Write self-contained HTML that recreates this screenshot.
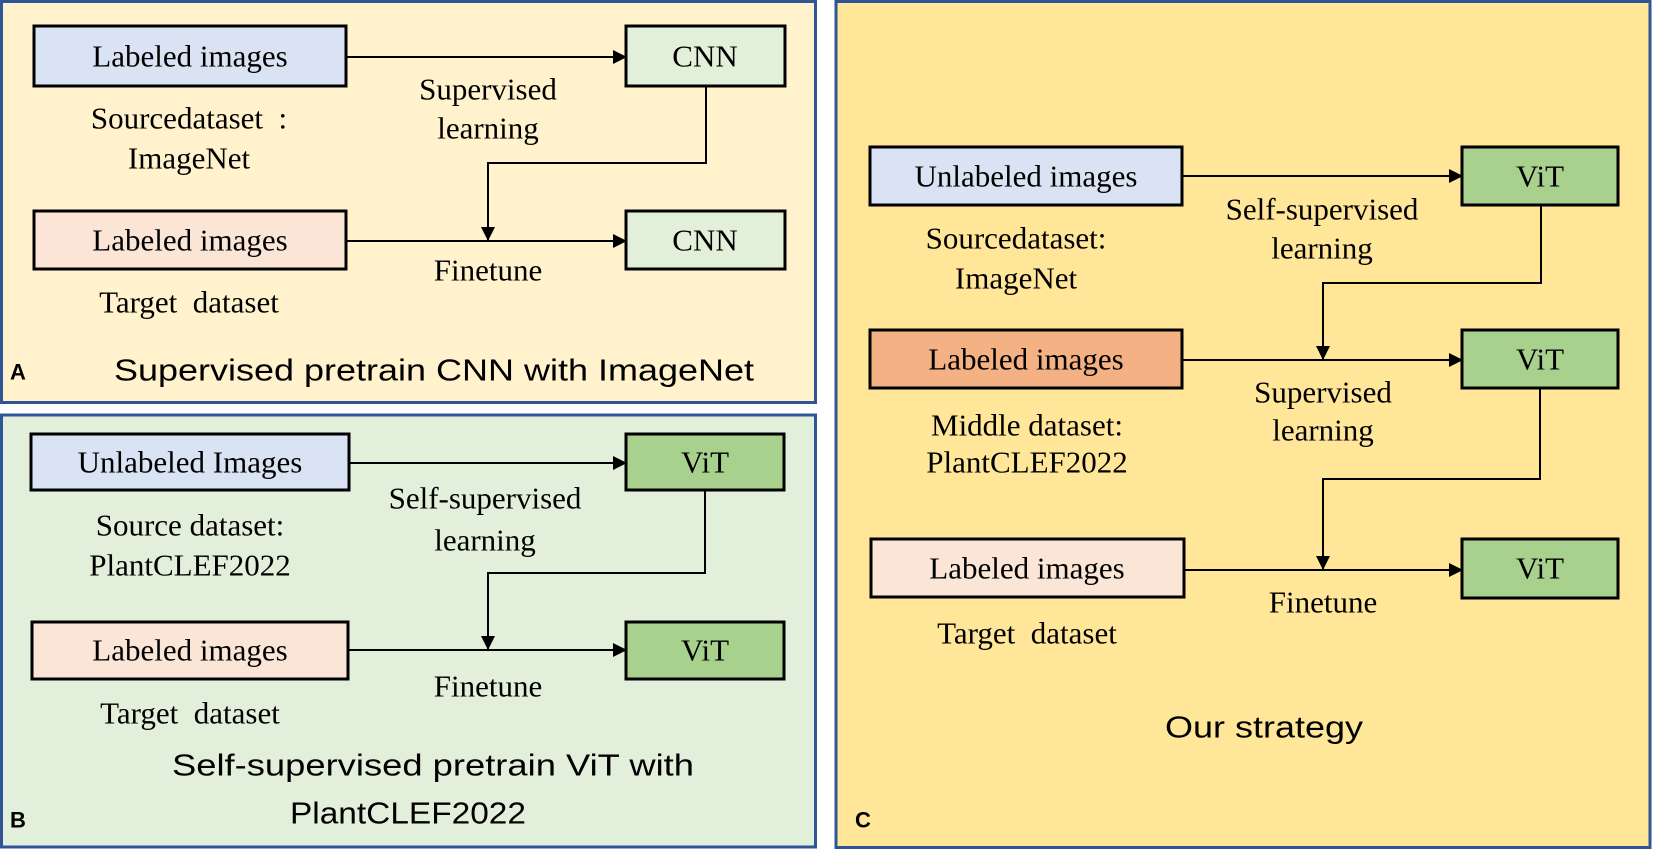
<!DOCTYPE html>
<html><head><meta charset="utf-8"><style>
html,body{margin:0;padding:0;background:#fff;}
svg{display:block;}
.t{font-family:"Liberation Serif",serif;font-size:31px;fill:#000;text-anchor:middle;dominant-baseline:central;}
.s{font-family:"Liberation Sans",sans-serif;font-size:31px;fill:#000;text-anchor:middle;dominant-baseline:central;}
.l{font-family:"Liberation Sans",sans-serif;font-size:22px;font-weight:bold;fill:#000;dominant-baseline:central;}
.b{stroke:#000;stroke-width:3;}
.ln{stroke:#000;stroke-width:2;fill:none;}
</style></head><body>
<svg width="1654" height="851" viewBox="0 0 1654 851" xmlns="http://www.w3.org/2000/svg">
<defs>
<marker id="ah" markerWidth="14" markerHeight="14" refX="13" refY="7" orient="auto" markerUnits="userSpaceOnUse">
<path d="M0,0 L14,7 L0,14 Z" fill="#000"/>
</marker>
</defs>
<!-- Panels -->
<rect x="1.5" y="1.5" width="814" height="401" fill="#fff2cc" stroke="#2f5597" stroke-width="3"/>
<rect x="1.5" y="415" width="814" height="432" fill="#e2efda" stroke="#2f5597" stroke-width="3"/>
<rect x="836" y="1.5" width="814" height="846" fill="#ffe699" stroke="#2f5597" stroke-width="3"/>

<!-- Panel A -->
<rect class="b" x="34" y="26" width="312" height="60" fill="#dae3f3"/>
<text class="t" x="190" y="56">Labeled images</text>
<rect class="b" x="626" y="26" width="159" height="60" fill="#e2f0d9"/>
<text class="t" x="705" y="56">CNN</text>
<line class="ln" x1="346" y1="57" x2="626" y2="57" marker-end="url(#ah)"/>
<rect class="b" x="34" y="211" width="312" height="58" fill="#fbe5d6"/>
<text class="t" x="190" y="240">Labeled images</text>
<rect class="b" x="626" y="211" width="159" height="58" fill="#e2f0d9"/>
<text class="t" x="705" y="240">CNN</text>
<line class="ln" x1="346" y1="241" x2="626" y2="241" marker-end="url(#ah)"/>
<polyline class="ln" points="706,86 706,163 488,163 488,240" marker-end="url(#ah)"/>
<text class="t" x="189" y="118">Sourcedataset &#160;:</text>
<text class="t" x="189" y="158">ImageNet</text>
<text class="t" x="488" y="89">Supervised</text>
<text class="t" x="488" y="128">learning</text>
<text class="t" x="488" y="270">Finetune</text>
<text class="t" x="189" y="302">Target &#160;dataset</text>
<text class="s" x="434" y="370" textLength="640" lengthAdjust="spacingAndGlyphs">Supervised pretrain CNN with ImageNet</text>
<text class="l" x="10" y="372">A</text>

<!-- Panel B -->
<rect class="b" x="31" y="434" width="318" height="56" fill="#dae3f3"/>
<text class="t" x="190" y="462">Unlabeled Images</text>
<rect class="b" x="626" y="434" width="158" height="56" fill="#a9d18e"/>
<text class="t" x="705" y="462">ViT</text>
<line class="ln" x1="349" y1="463" x2="626" y2="463" marker-end="url(#ah)"/>
<rect class="b" x="32" y="622" width="316" height="57" fill="#fbe5d6"/>
<text class="t" x="190" y="650">Labeled images</text>
<rect class="b" x="626" y="622" width="158" height="57" fill="#a9d18e"/>
<text class="t" x="705" y="650">ViT</text>
<line class="ln" x1="348" y1="650" x2="626" y2="650" marker-end="url(#ah)"/>
<polyline class="ln" points="705,490 705,573 488,573 488,649" marker-end="url(#ah)"/>
<text class="t" x="190" y="525">Source dataset:</text>
<text class="t" x="190" y="565">PlantCLEF2022</text>
<text class="t" x="485" y="498">Self-supervised</text>
<text class="t" x="485" y="540">learning</text>
<text class="t" x="488" y="686">Finetune</text>
<text class="t" x="190" y="713">Target &#160;dataset</text>
<text class="s" x="433" y="765" textLength="522" lengthAdjust="spacingAndGlyphs">Self-supervised pretrain ViT with</text>
<text class="s" x="408" y="813" textLength="236" lengthAdjust="spacingAndGlyphs">PlantCLEF2022</text>
<text class="l" x="10" y="820">B</text>

<!-- Panel C -->
<rect class="b" x="870" y="147" width="312" height="58" fill="#dae3f3"/>
<text class="t" x="1026" y="176">Unlabeled images</text>
<rect class="b" x="1462" y="147" width="156" height="58" fill="#a9d18e"/>
<text class="t" x="1540" y="176">ViT</text>
<line class="ln" x1="1182" y1="176" x2="1462" y2="176" marker-end="url(#ah)"/>
<text class="t" x="1016" y="238">Sourcedataset:</text>
<text class="t" x="1016" y="278">ImageNet</text>
<text class="t" x="1322" y="209">Self-supervised</text>
<text class="t" x="1322" y="248">learning</text>
<polyline class="ln" points="1541,205 1541,283 1323,283 1323,359" marker-end="url(#ah)"/>

<rect class="b" x="870" y="330" width="312" height="58" fill="#f4b183"/>
<text class="t" x="1026" y="359">Labeled images</text>
<rect class="b" x="1462" y="330" width="156" height="58" fill="#a9d18e"/>
<text class="t" x="1540" y="359">ViT</text>
<line class="ln" x1="1182" y1="360" x2="1462" y2="360" marker-end="url(#ah)"/>
<text class="t" x="1027" y="425">Middle dataset:</text>
<text class="t" x="1027" y="462">PlantCLEF2022</text>
<text class="t" x="1323" y="392">Supervised</text>
<text class="t" x="1323" y="430">learning</text>
<polyline class="ln" points="1540,388 1540,479 1323,479 1323,569" marker-end="url(#ah)"/>

<rect class="b" x="871" y="539" width="313" height="58" fill="#fbe5d6"/>
<text class="t" x="1027" y="568">Labeled images</text>
<rect class="b" x="1462" y="539" width="156" height="59" fill="#a9d18e"/>
<text class="t" x="1540" y="568">ViT</text>
<line class="ln" x1="1184" y1="570" x2="1462" y2="570" marker-end="url(#ah)"/>
<text class="t" x="1323" y="602">Finetune</text>
<text class="t" x="1027" y="633">Target &#160;dataset</text>
<text class="s" x="1264" y="727" textLength="198" lengthAdjust="spacingAndGlyphs">Our strategy</text>
<text class="l" x="855" y="820">C</text>
</svg>
</body></html>
